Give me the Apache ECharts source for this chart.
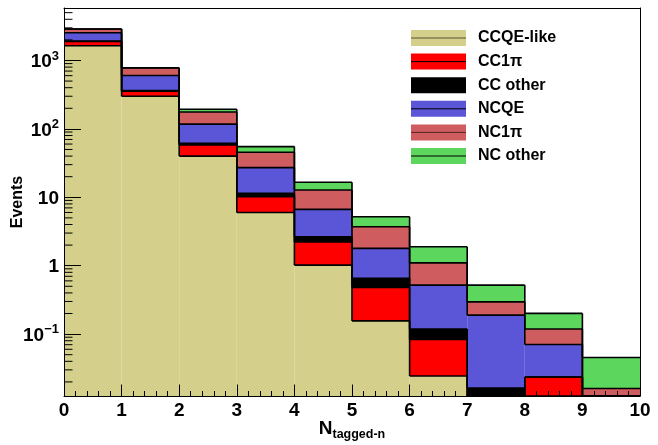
<!DOCTYPE html>
<html><head><meta charset="utf-8">
<script src="https://cdn.jsdelivr.net/npm/echarts@6/dist/echarts.min.js"></script>
<style>html,body{margin:0;padding:0;background:#fff}#c{width:658px;height:445px}</style>
</head><body><div id="c"></div>
<script>
// ---- data ----
const binEdges = [0, 1, 2, 3, 4, 5, 6, 7, 8, 9, 10];
const seriesNames = ['CCQE-like', 'CC1π', 'CC other', 'NCQE', 'NC1π', 'NC other'];
const ccqeLike = [1640, 300, 40, 6.0, 1.02, 0.156, 0.0244, 0, 0, 0];
const cc1pi    = [250, 55, 18, 4.2, 1.2, 0.325, 0.059, 0, 0.0236, 0];
const ccOther  = [30, 8, 3.5, 1.2, 0.43, 0.171, 0.035, 0.0163, 0, 0];
const ncqe     = [620, 240, 56, 15.7, 4.0, 1.14, 0.402, 0.173, 0.047, 0];
const nc1pi    = [340, 175, 59, 18.5, 6.1, 1.92, 0.58, 0.107, 0.048, 0.016];
const ncOther  = [12, 5, 17, 9.5, 3.8, 1.49, 0.79, 0.224, 0.082, 0.0294];
const xTickLabels = ['0','1','2','3','4','5','6','7','8','9','10'];
const yMajorTicks = [0.1, 1, 10, 100, 1000];
const yRange = [0.01245, 5850];

// ---- styles ----
const colors = ['#d4cf8a', '#ff0000', '#000000', '#5b55d8', '#cf5c5f', '#5cd65c'];
const FONT = '"Liberation Sans", Arial, Helvetica, sans-serif';
const YMIN = yRange[0], YMAX = yRange[1];

const layers = [ccqeLike, cc1pi, ccOther, ncqe, nc1pi, ncOther];
const nBins = binEdges.length - 1;
// cumulative tops per layer
const cum = [];
layers.forEach((arr, k) => {
  cum.push(arr.map((v, i) => v + (k > 0 ? cum[k - 1][i] : 0)));
});

function fillSeries(k) {
  const data = [];
  for (let i = 0; i < nBins; i++) {
    const lo = k > 0 ? cum[k - 1][i] : 0;
    const hi = cum[k][i];
    if (layers[k][i] > 0) data.push([binEdges[i], binEdges[i + 1], lo, hi]);
  }
  return {
    type: 'custom', name: seriesNames[k], z: 2, clip: true,
    itemStyle: { color: colors[k] },
    encode: { x: [0, 1], y: 3 },
    data: data,
    renderItem: function (params, api) {
      const x0 = api.value(0), x1 = api.value(1), lo = api.value(2), hi = api.value(3);
      if (!(hi > YMIN)) return null;
      const pTop = api.coord([x0, Math.min(hi, YMAX)]);
      const pBot = api.coord([x1, Math.max(lo, YMIN)]);
      return {
        type: 'rect',
        shape: { x: pTop[0], y: pTop[1], width: pBot[0] - pTop[0], height: pBot[1] - pTop[1] },
        style: { fill: colors[k] }
      };
    }
  };
}

// outline (step line of each cumulative histogram)
const outlineData = [];
for (let k = 0; k < layers.length; k++) {
  for (let i = 0; i < nBins; i++) {
    outlineData.push([binEdges[i], binEdges[i + 1], cum[k][i], i + 1 < nBins ? cum[k][i + 1] : -1]);
  }
}
const outlineSeries = {
  type: 'custom', name: 'outline', z: 3, clip: true, silent: true,
  encode: { x: [0, 1] },
  data: outlineData,
  renderItem: function (params, api) {
    const x0 = api.value(0), x1 = api.value(1), c = api.value(2), n = api.value(3);
    const cl = v => Math.max(YMIN, Math.min(YMAX, v));
    const a = api.coord([x0, cl(c)]), b = api.coord([x1, cl(c)]);
    const st = { stroke: '#000', lineWidth: 1.6, fill: null };
    const children = [{ type: 'line', shape: { x1: a[0], y1: a[1], x2: b[0], y2: b[1] }, style: st }];
    if (n >= 0) {
      const d = api.coord([x1, cl(n)]);
      children.push({ type: 'line', shape: { x1: b[0], y1: b[1], x2: d[0], y2: d[1] }, style: st });
    }
    return { type: 'group', children: children };
  }
};

// log minor ticks (2..9 x 10^k) drawn through the y scale
const minorTickData = [];
for (let e = -2; e <= 3; e++) {
  for (let m = 2; m <= 9; m++) {
    const v = m * Math.pow(10, e);
    if (v > YMIN && v < YMAX) minorTickData.push([0, v]);
  }
}
const minorTickSeries = {
  type: 'custom', name: 'minorTicks', z: 10, silent: true, clip: false,
  encode: { x: 0, y: 1 },
  data: minorTickData,
  renderItem: function (params, api) {
    const p = api.coord([api.value(0), api.value(1)]);
    return { type: 'line', shape: { x1: p[0], y1: p[1], x2: p[0] + 8.5, y2: p[1] }, style: { stroke: '#000', lineWidth: 1 } };
  }
};

// legend: one legend block per entry (ROOT style)
const LEG_LEFT = 411, LEG_TOP = 30, LEG_STEP = 23.6, LEG_W = 55, LEG_H = 16;
const legends = seriesNames.map((n, i) => ({
  data: [n], left: LEG_LEFT, top: LEG_TOP + i * LEG_STEP, padding: 0,
  itemWidth: LEG_W, itemHeight: LEG_H, icon: 'rect', selectedMode: false,
  textStyle: { fontFamily: FONT, fontWeight: 'bold', fontSize: 16, color: '#000', padding: [0, 0, 0, 7] }
}));
const legendLines = seriesNames.map((n, i) => ({
  type: 'line', z: 100,
  shape: { x1: LEG_LEFT, y1: LEG_TOP + i * LEG_STEP + LEG_H / 2, x2: LEG_LEFT + LEG_W, y2: LEG_TOP + i * LEG_STEP + LEG_H / 2 },
  style: { stroke: (i === 0 || i === 4) ? 'rgba(0,0,0,0.6)' : '#000', lineWidth: 1 }
}));

function yLabel(v) {
  const e = Math.round(Math.log10(v));
  if (!yMajorTicks.some(t => Math.abs(Math.log10(t) - e) < 1e-6)) return '';
  if (e === 0) return '{b|1}';
  if (e === 1) return '{b|10}';
  return '{b|10}{s|' + (e < 0 ? '−' + (-e) : e) + '}';
}

const chart = echarts.init(document.getElementById('c'), null, { renderer: 'canvas' });
chart.setOption({
  animation: false,
  backgroundColor: '#fff',
  grid: { left: 64, right: 18, top: 8, bottom: 49, show: false, containLabel: false, outerBoundsMode: 'none' },
  legend: legends,
  graphic: legendLines,
  xAxis: [{
    type: 'value', min: 0, max: 10, interval: 1, z: 10,
    axisLine: { show: true, onZero: false, lineStyle: { color: '#000', width: 1 } },
    axisTick: { show: true, inside: true, length: 11.5, lineStyle: { color: '#000', width: 1 } },
    minorTick: { show: true, splitNumber: 5, length: 5, lineStyle: { color: '#000', width: 1 } },
    splitLine: { show: false },
    axisLabel: { margin: 5, fontFamily: FONT, fontWeight: 'bold', fontSize: 19, color: '#000',
      formatter: v => xTickLabels[Math.round(v)] },
    name: '{n|N}{s|tagged-n}', nameLocation: 'middle', nameGap: 23, nameMoveOverlap: false,
    nameTextStyle: { rich: {
      n: { fontFamily: FONT, fontWeight: 'bold', fontSize: 19, color: '#000', lineHeight: 22, verticalAlign: 'top' },
      s: { fontFamily: FONT, fontWeight: 'bold', fontSize: 12.5, color: '#000', lineHeight: 22, verticalAlign: 'bottom', padding: [8, 0, 0, 0] }
    } }
  }, {
    type: 'value', min: 0, max: 10, position: 'top', z: 10,
    axisLine: { show: true, onZero: false, lineStyle: { color: '#000', width: 1 } },
    axisTick: { show: false }, axisLabel: { show: false }, splitLine: { show: false }
  }],
  yAxis: [{
    type: 'log', logBase: 10, min: YMIN, max: YMAX, z: 10,
    axisLine: { show: true, onZero: false, lineStyle: { color: '#000', width: 1 } },
    axisTick: { show: true, inside: true, length: 17, lineStyle: { color: '#000', width: 1 } },
    minorTick: { show: false },
    splitLine: { show: false },
    axisLabel: { margin: 5, showMinLabel: false, showMaxLabel: false, formatter: yLabel,
      rich: {
        b: { fontFamily: FONT, fontWeight: 'bold', fontSize: 19, color: '#000', lineHeight: 22, padding: [3, 0, 0, 0] },
        s: { fontFamily: FONT, fontWeight: 'bold', fontSize: 13, color: '#000', lineHeight: 22, verticalAlign: 'top', padding: [0, 0, 6, 0] }
      } },
    name: 'Events', nameLocation: 'middle', nameGap: 38, nameRotate: 90, nameMoveOverlap: false,
    nameTextStyle: { fontFamily: FONT, fontWeight: 'bold', fontSize: 16, color: '#000' }
  }, {
    type: 'log', logBase: 10, min: YMIN, max: YMAX, position: 'right', z: 10,
    axisLine: { show: true, onZero: false, lineStyle: { color: '#000', width: 1 } },
    axisTick: { show: false }, axisLabel: { show: false }, splitLine: { show: false }
  }],
  series: layers.map((_, k) => fillSeries(k)).concat([outlineSeries, minorTickSeries])
});
</script>
</body></html>
